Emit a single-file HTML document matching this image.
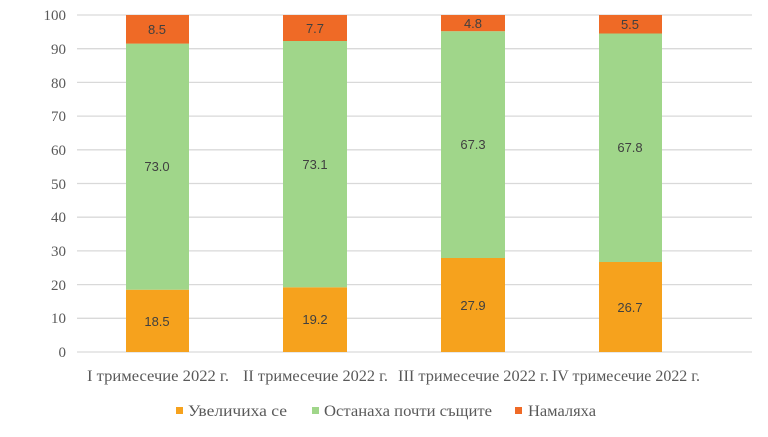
<!DOCTYPE html>
<html><head><meta charset="utf-8"><style>body{margin:0;background:#fff}</style></head><body>
<svg width="768" height="432" xmlns="http://www.w3.org/2000/svg">
<rect width="768" height="432" fill="#fff"/>
<g stroke="#d9d9d9" stroke-width="1.3">
<line x1="77" x2="752" y1="15" y2="15"/><line x1="77" x2="752" y1="48.7" y2="48.7"/><line x1="77" x2="752" y1="82.4" y2="82.4"/><line x1="77" x2="752" y1="116.1" y2="116.1"/><line x1="77" x2="752" y1="149.8" y2="149.8"/><line x1="77" x2="752" y1="183.5" y2="183.5"/><line x1="77" x2="752" y1="217.2" y2="217.2"/><line x1="77" x2="752" y1="250.9" y2="250.9"/><line x1="77" x2="752" y1="284.6" y2="284.6"/><line x1="77" x2="752" y1="318.3" y2="318.3"/><line x1="77" x2="752" y1="352" y2="352"/>
</g>
<g font-family="Liberation Serif, serif" font-size="15" fill="#595959" text-anchor="end">
<text x="66" y="20">100</text><text x="66" y="54">90</text><text x="66" y="88">80</text><text x="66" y="121">70</text><text x="66" y="155">60</text><text x="66" y="189">50</text><text x="66" y="222">40</text><text x="66" y="256">30</text><text x="66" y="290">20</text><text x="66" y="323">10</text><text x="66" y="357">0</text>
</g>
<g>
<rect x="126" y="289.7" width="63" height="62.3" fill="#F6A21D"/><rect x="126" y="43.6" width="63" height="246.1" fill="#A0D68A"/><rect x="126" y="15" width="63" height="28.6" fill="#EF6A26"/>
<rect x="283" y="287.3" width="64" height="64.7" fill="#F6A21D"/><rect x="283" y="41" width="64" height="246.3" fill="#A0D68A"/><rect x="283" y="15" width="64" height="26" fill="#EF6A26"/>
<rect x="441" y="258" width="64" height="94" fill="#F6A21D"/><rect x="441" y="31.2" width="64" height="226.8" fill="#A0D68A"/><rect x="441" y="15" width="64" height="16.2" fill="#EF6A26"/>
<rect x="599" y="262" width="63" height="90" fill="#F6A21D"/><rect x="599" y="33.5" width="63" height="228.5" fill="#A0D68A"/><rect x="599" y="15" width="63" height="18.5" fill="#EF6A26"/>
</g>
<g font-family="Liberation Sans, sans-serif" font-size="13" fill="#404040" text-anchor="middle">
<text x="157" y="34">8.5</text><text x="157" y="171">73.0</text><text x="157" y="326">18.5</text>
<text x="315" y="33">7.7</text><text x="315" y="169">73.1</text><text x="315" y="324">19.2</text>
<text x="473" y="28">4.8</text><text x="473" y="149">67.3</text><text x="473" y="310">27.9</text>
<text x="630" y="29">5.5</text><text x="630" y="152">67.8</text><text x="630" y="312">26.7</text>
</g>
<g font-family="Liberation Serif, serif" font-size="16" fill="#595959">
<text x="87" y="381" textLength="142" lengthAdjust="spacingAndGlyphs">I тримесечие 2022 г.</text>
<text x="243" y="381" textLength="145" lengthAdjust="spacingAndGlyphs">II тримесечие 2022 г.</text>
<text x="398" y="381" textLength="151" lengthAdjust="spacingAndGlyphs">III тримесечие 2022 г.</text>
<text x="552" y="381" textLength="148" lengthAdjust="spacingAndGlyphs">IV тримесечие 2022 г.</text>
</g>
<g font-family="Liberation Serif, serif" font-size="16" fill="#595959">
<rect x="176" y="407" width="7" height="7" fill="#F6A21D"/><text x="188" y="416" textLength="99" lengthAdjust="spacingAndGlyphs">Увеличиха се</text>
<rect x="312" y="407" width="7" height="7" fill="#A0D68A"/><text x="324" y="416" textLength="168" lengthAdjust="spacingAndGlyphs">Останаха почти същите</text>
<rect x="515" y="407" width="7" height="7" fill="#EF6A26"/><text x="528" y="416" textLength="68" lengthAdjust="spacingAndGlyphs">Намаляха</text>
</g>
</svg>
</body></html>
